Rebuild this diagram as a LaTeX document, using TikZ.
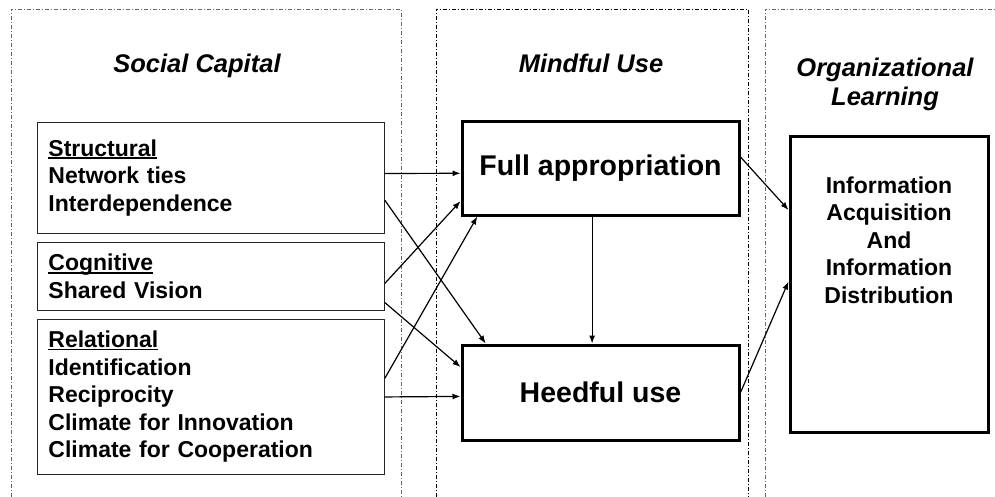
\documentclass[tikz,border=0pt]{standalone}
\usepackage{fontspec}
\setmainfont{Liberation Sans}
\usetikzlibrary{arrows.meta,calc}
% heavy underline for the dimension headings
\newcommand\ulword[1]{\setbox0\hbox{#1}\rlap{\rule[-2.6pt]{\wd0}{1.8pt}}\box0}

\begin{document}
\begin{tikzpicture}[x=1pt,y=-1pt,
  panel/.style={line width=0.9pt, dash pattern=on 4pt off 2pt on 1pt off 2pt},
  title/.style={font=\fontsize{25.5}{29}\selectfont\bfseries\itshape, align=center, inner sep=0, anchor=base},
  dimbox/.style={draw=black!85, line width=0.9pt, anchor=north west, text width=325,
    align=left, inner xsep=11, inner ysep=0, font=\fontsize{23}{27.5}\selectfont\bfseries},
  usebox/.style={draw, line width=3pt, minimum width=277, inner sep=0,
    font=\fontsize{28.5}{32}\selectfont\bfseries},
  link/.style={line width=1.2pt, -{Latex[length=8pt,width=6pt]}}
]
\useasboundingbox (0,0) rectangle (995,497);
\fill[white] (0,0) rectangle (995,497);

% column panels
\draw[panel, draw=black!60] (11,497) -- (11,9) -- (401,9) -- (401,497);
\draw[panel, draw=black] (436,497) -- (436,9) -- (748,9) -- (748,497);
\draw[panel, draw=black!60] (765,497) -- (765,9) -- (995,9);

% column titles
\node[title] (tsc) at (197,73) {Social Capital};
\node[title] (tmu) at (591,73) {Mindful Use};
\node[title] (tol) at (885,106) {Organizational\\Learning};

% social capital dimensions
\node[dimbox, minimum height=111] (struct) at (37,122)
  {\ulword{Structural}\\Network ties\\Interdependence};
\node[dimbox, minimum height=68] (cog) at (37,242)
  {\ulword{Cognitive}\\Shared Vision};
\node[dimbox, minimum height=155] (rel) at (37,319)
  {\ulword{Relational}\\Identification\\Reciprocity\\Climate for Innovation\\Climate for Cooperation};

% mindful use
\node[usebox, minimum height=93] (full) at (600.5,168.5) {Full appropriation};
\node[usebox, minimum height=95] (heed) at (600.5,392.5) {Heedful use};

% organizational learning
\node[draw, line width=3pt, minimum width=198, minimum height=295] (info) at (889,284.5) {};
\node[align=center, inner sep=0, font=\fontsize{23}{27.5}\selectfont\bfseries] (infotxt) at (889,240)
  {Information\\Acquisition\\And\\Information\\Distribution};

% links
\draw[link] ($(struct.north east)!0.46!(struct.south east)$) -- ($(full.north west)!0.55!(full.south west)$);
\draw[link] ($(struct.north east)!0.70!(struct.south east)$) -- ($(heed.north west)!0.09!(heed.north east)$);
\draw[link] ($(cog.north east)!0.60!(cog.south east)$) -- ($(full.north west)!0.84!(full.south west)$);
\draw[link] ($(cog.north east)!0.88!(cog.south east)$) -- ($(heed.north west)!0.24!(heed.south west)$);
\draw[link] ($(rel.north east)!0.38!(rel.south east)$) -- ($(full.south west)!0.06!(full.south east)$);
\draw[link] ($(rel.north east)!0.50!(rel.south east)$) -- ($(heed.north west)!0.54!(heed.south west)$);
\draw[link] ($(full.south west)!0.47!(full.south east)$) -- ($(heed.north west)!0.47!(heed.north east)$);
\draw[link] ($(full.north east)!0.38!(full.south east)$) -- ($(info.north west)!0.25!(info.south west)$);
\draw[link] (heed.east) -- ($(info.north west)!0.49!(info.south west)$);
\end{tikzpicture}
\end{document}
